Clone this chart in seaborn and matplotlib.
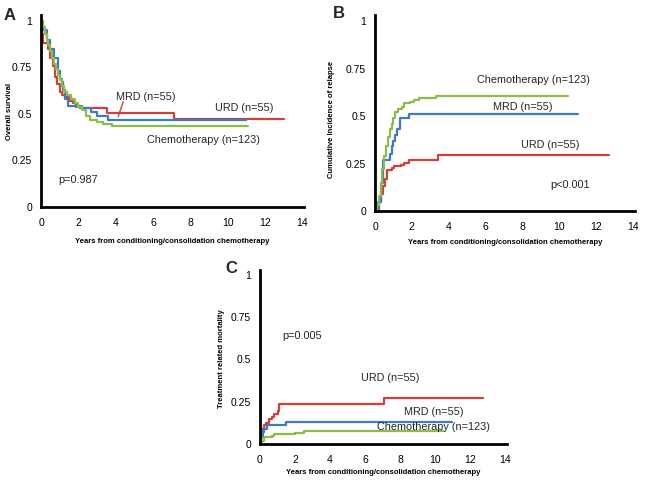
import pandas as pd
import seaborn as sns
import matplotlib.pyplot as plt

# panel A: overall survival (step times, values)
os_urd_t = [0, 0.05, 0.1, 0.35, 0.5, 0.65, 0.75, 0.85, 1.0, 1.1, 1.3, 1.5, 1.7, 1.9, 2.1, 3.55, 7.1, 13.0]
os_urd_v = [1.0, 0.93, 0.88, 0.85, 0.80, 0.76, 0.70, 0.66, 0.62, 0.60, 0.59, 0.57, 0.56, 0.54, 0.53, 0.505, 0.472, 0.472]
os_mrd_t = [0, 0.1, 0.3, 0.5, 0.7, 0.9, 1.0, 1.1, 1.2, 1.3, 1.45, 2.2, 2.7, 3.0, 3.6, 11.0]
os_mrd_v = [1.0, 0.95, 0.90, 0.85, 0.80, 0.73, 0.69, 0.67, 0.63, 0.58, 0.545, 0.53, 0.51, 0.49, 0.465, 0.465]
os_chemo_t = [0, 0.1, 0.2, 0.3, 0.4, 0.5, 0.6, 0.7, 0.8, 0.9, 1.0, 1.1, 1.25, 1.4, 1.6, 1.8, 2.0, 2.2,
              2.4, 2.6, 3.0, 3.3, 3.8, 11.1]
os_chemo_v = [1.0, 0.97, 0.93, 0.90, 0.87, 0.84, 0.80, 0.77, 0.74, 0.71, 0.68, 0.65, 0.62, 0.60, 0.58,
              0.56, 0.54, 0.52, 0.49, 0.47, 0.455, 0.445, 0.434, 0.434]

# panel B: cumulative incidence of relapse
rel_chemo_t = [0, 0.1, 0.2, 0.3, 0.4, 0.5, 0.6, 0.7, 0.8, 0.9, 1.0, 1.1, 1.25, 1.45, 1.6, 1.9, 2.1, 2.4, 3.3, 10.45]
rel_chemo_v = [0, 0.03, 0.08, 0.15, 0.22, 0.29, 0.34, 0.39, 0.43, 0.46, 0.49, 0.52, 0.54, 0.55, 0.57,
               0.575, 0.585, 0.595, 0.605, 0.605]
rel_mrd_t = [0, 0.15, 0.3, 0.45, 0.8, 0.9, 1.0, 1.1, 1.2, 1.35, 1.85, 11.0]
rel_mrd_v = [0, 0.05, 0.15, 0.27, 0.30, 0.34, 0.37, 0.40, 0.43, 0.49, 0.51, 0.51]
rel_urd_t = [0, 0.2, 0.35, 0.45, 0.55, 0.65, 0.9, 1.05, 1.4, 1.6, 1.85, 3.4, 12.7]
rel_urd_v = [0, 0.05, 0.09, 0.13, 0.17, 0.215, 0.225, 0.235, 0.245, 0.255, 0.27, 0.295, 0.295]

# panel C: treatment related mortality
trm_urd_t = [0, 0.05, 0.1, 0.2, 0.35, 0.5, 0.7, 0.8, 1.0, 1.1, 7.1, 12.7]
trm_urd_v = [0, 0.06, 0.09, 0.11, 0.125, 0.145, 0.16, 0.18, 0.195, 0.238, 0.272, 0.272]
trm_mrd_t = [0, 0.05, 0.15, 0.25, 0.4, 1.5, 10.95]
trm_mrd_v = [0, 0.04, 0.07, 0.09, 0.11, 0.13, 0.13]
trm_chemo_t = [0, 0.1, 0.2, 0.7, 0.8, 2.0, 2.5, 10.45]
trm_chemo_v = [0, 0.02, 0.04, 0.05, 0.059, 0.065, 0.075, 0.075]

colors = {"URD": "#D3403A", "MRD": "#3D7CC4", "Chemo": "#8CBD48"}
yticks = [0, 0.25, 0.5, 0.75, 1]
yticklabels = ["0", "0.25", "0.5", "0.75", "1"]
xlab = "Years from conditioning/consolidation chemotherapy"


def long_df(series):
    frames = []
    for name, t, v in series:
        frames.append(pd.DataFrame({"time": t, "value": v, "group": name}))
    return pd.concat(frames, ignore_index=True)


def draw(ax, df, ylabel, xpad, ylab_x, ylab_y):
    sns.lineplot(data=df, x="time", y="value", hue="group", palette=colors,
                 drawstyle="steps-post", estimator=None, sort=False,
                 linewidth=1.6, legend=False, ax=ax)
    ax.set_xlim(0, 14.1)
    ax.set_ylim(0, 1.03)
    ax.set_xticks(range(0, 15, 2))
    ax.set_yticks(yticks)
    ax.set_yticklabels(yticklabels)
    ax.set_xlabel(xlab, fontsize=5.5, fontweight="bold", labelpad=xpad, color="black")
    ax.set_ylabel(ylabel, fontsize=5.5, fontweight="bold", color="black")
    ax.yaxis.set_label_coords(ylab_x, ylab_y)
    ax.tick_params(direction="inout", length=5, width=1.5, labelsize=7.5,
                   color="black", labelcolor="black")
    ax.tick_params(axis="x", pad=5.5)
    ax.tick_params(axis="y", pad=4)
    for s in ["top", "right"]:
        ax.spines[s].set_visible(False)
    for s in ["left", "bottom"]:
        ax.spines[s].set_linewidth(2)
        ax.spines[s].set_color("black")


sns.set_style("white")
plt.rcParams["font.family"] = ["Liberation Sans", "DejaVu Sans"]

fig = plt.figure(figsize=(6.45, 4.84), dpi=100)
ax_a = fig.add_axes([0.0636, 0.5723, 0.408, 0.396])
ax_b = fig.add_axes([0.5814, 0.5640, 0.403, 0.404])
ax_c = fig.add_axes([0.4031, 0.0826, 0.383, 0.360])

note = 7.8

draw(ax_a, long_df([("URD", os_urd_t, os_urd_v), ("MRD", os_mrd_t, os_mrd_v),
                    ("Chemo", os_chemo_t, os_chemo_v)]), "Overall survival", 7, -0.105, 0.5)
ax_a.text(4.0, 0.575, "MRD (n=55)", fontsize=note, ha="left")
ax_a.plot([4.4, 4.13], [0.565, 0.485], color=colors["URD"], linewidth=1)
ax_a.text(10.9, 0.53, "URD (n=55)", fontsize=note, ha="center", va="center")
ax_a.text(8.7, 0.36, "Chemotherapy (n=123)", fontsize=note, ha="center", va="center")
ax_a.text(0.9, 0.145, "p=0.987", fontsize=note, ha="left", va="center")

draw(ax_b, long_df([("URD", rel_urd_t, rel_urd_v), ("MRD", rel_mrd_t, rel_mrd_v),
                    ("Chemo", rel_chemo_t, rel_chemo_v)]), "Cumulative Incidence of relapse", 5,
     -0.155, 0.47)
ax_b.text(8.57, 0.69, "Chemotherapy (n=123)", fontsize=note, ha="center", va="center")
ax_b.text(8.0, 0.55, "MRD (n=55)", fontsize=note, ha="center", va="center")
ax_b.text(9.5, 0.35, "URD (n=55)", fontsize=note, ha="center", va="center")
ax_b.text(10.6, 0.137, "p<0.001", fontsize=note, ha="center", va="center")

draw(ax_c, long_df([("URD", trm_urd_t, trm_urd_v), ("MRD", trm_mrd_t, trm_mrd_v),
                    ("Chemo", trm_chemo_t, trm_chemo_v)]), "Treatment related mortality", 2.5,
     -0.143, 0.49)
ax_c.text(2.4, 0.64, "p=0.005", fontsize=note, ha="center", va="center")
ax_c.text(7.43, 0.39, "URD (n=55)", fontsize=note, ha="center", va="center")
ax_c.text(9.9, 0.19, "MRD (n=55)", fontsize=note, ha="center", va="center")
ax_c.text(9.9, 0.10, "Chemotherapy (n=123)", fontsize=note, ha="center", va="center")

# panel letters
fig.text(0.006, 0.959, "A", fontsize=12, fontweight="bold")
fig.text(0.516, 0.963, "B", fontsize=12, fontweight="bold")
fig.text(0.349, 0.436, "C", fontsize=12, fontweight="bold")

fig.savefig("out.png", dpi=100)
plt.close(fig)
